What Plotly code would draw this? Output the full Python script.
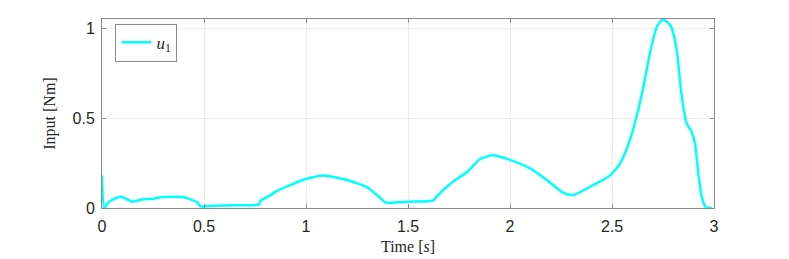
import plotly.graph_objects as go

time_s = [0.0, 0.011, 0.03, 0.05, 0.093, 0.12, 0.15, 0.2, 0.25, 0.3, 0.4, 0.44, 0.47, 0.48, 0.55, 0.65, 0.77, 0.78,
          0.81, 0.86, 0.92, 0.97, 1.0, 1.085, 1.2, 1.3, 1.347, 1.37, 1.39, 1.5, 1.625, 1.64, 1.72, 1.79, 1.853,
          1.918, 2.0, 2.098, 2.18, 2.26, 2.31, 2.408, 2.49, 2.54, 2.588, 2.62, 2.654, 2.686, 2.72, 2.75, 2.79,
          2.817, 2.84, 2.866, 2.89, 2.907, 2.923, 2.94, 2.96, 2.99]
u1 = [0.18, 0.0, 0.03, 0.045, 0.062, 0.05, 0.035, 0.048, 0.052, 0.061, 0.06, 0.045, 0.03, 0.01, 0.012, 0.015, 0.02, 0.044,
      0.06, 0.096, 0.126, 0.15, 0.161, 0.18, 0.156, 0.115, 0.072, 0.05, 0.03, 0.035, 0.043, 0.063, 0.146, 0.2, 0.272,
      0.293, 0.267, 0.22, 0.156, 0.085, 0.072, 0.128, 0.18, 0.248, 0.378, 0.507, 0.674, 0.86, 1.007, 1.048, 1.007,
      0.878, 0.637, 0.47, 0.424, 0.359, 0.193, 0.063, 0.004, 0.0]

x_ticks = [0, 0.5, 1, 1.5, 2, 2.5, 3]
x_tick_labels = ["0", "0.5", "1", "1.5", "2", "2.5", "3"]
y_ticks = [0, 0.5, 1]
y_tick_labels = ["0", "0.5", "1"]

fig = go.Figure()
fig.add_trace(go.Scatter(x=time_s, y=u1, mode="lines", name="<i>u</i><sub>1</sub>",
                         line=dict(color="#00FFFF", width=2.5, shape="spline", smoothing=0.6)))

axis_common = dict(showline=True, linecolor="#8a8a8a", linewidth=1, mirror="ticks", ticks="inside",
                   ticklen=4, tickcolor="#8a8a8a", showgrid=True, gridcolor="#ececec", gridwidth=1,
                   zeroline=False, automargin=False,
                   tickfont=dict(family="Liberation Sans, Arial", size=16, color="#262626"))

fig.update_layout(
    width=789, height=259,
    margin=dict(l=94, r=83, t=11, b=59),
    paper_bgcolor="white", plot_bgcolor="white",
    showlegend=True,
    legend=dict(x=0.022, y=0.975, xanchor="left", yanchor="top", bordercolor="#8a8a8a", borderwidth=1,
                bgcolor="white", font=dict(family="Liberation Serif", size=17, color="#262626"),
                tracegroupgap=0, itemwidth=30),
    xaxis=dict(range=[0, 3], tickvals=x_ticks, ticktext=x_tick_labels, ticklabelstandoff=4,
               title=dict(text="Time [<i>s</i>]", font=dict(family="Liberation Serif", size=16, color="#262626"),
                          standoff=6),
               **axis_common),
    yaxis=dict(range=[0, 1.05], tickvals=y_ticks, ticktext=y_tick_labels, ticklabelstandoff=3,
               title=dict(text="Input [Nm]", font=dict(family="Liberation Serif", size=16, color="#262626"),
                          standoff=12),
               **axis_common),
)

fig.write_html("out.html")
